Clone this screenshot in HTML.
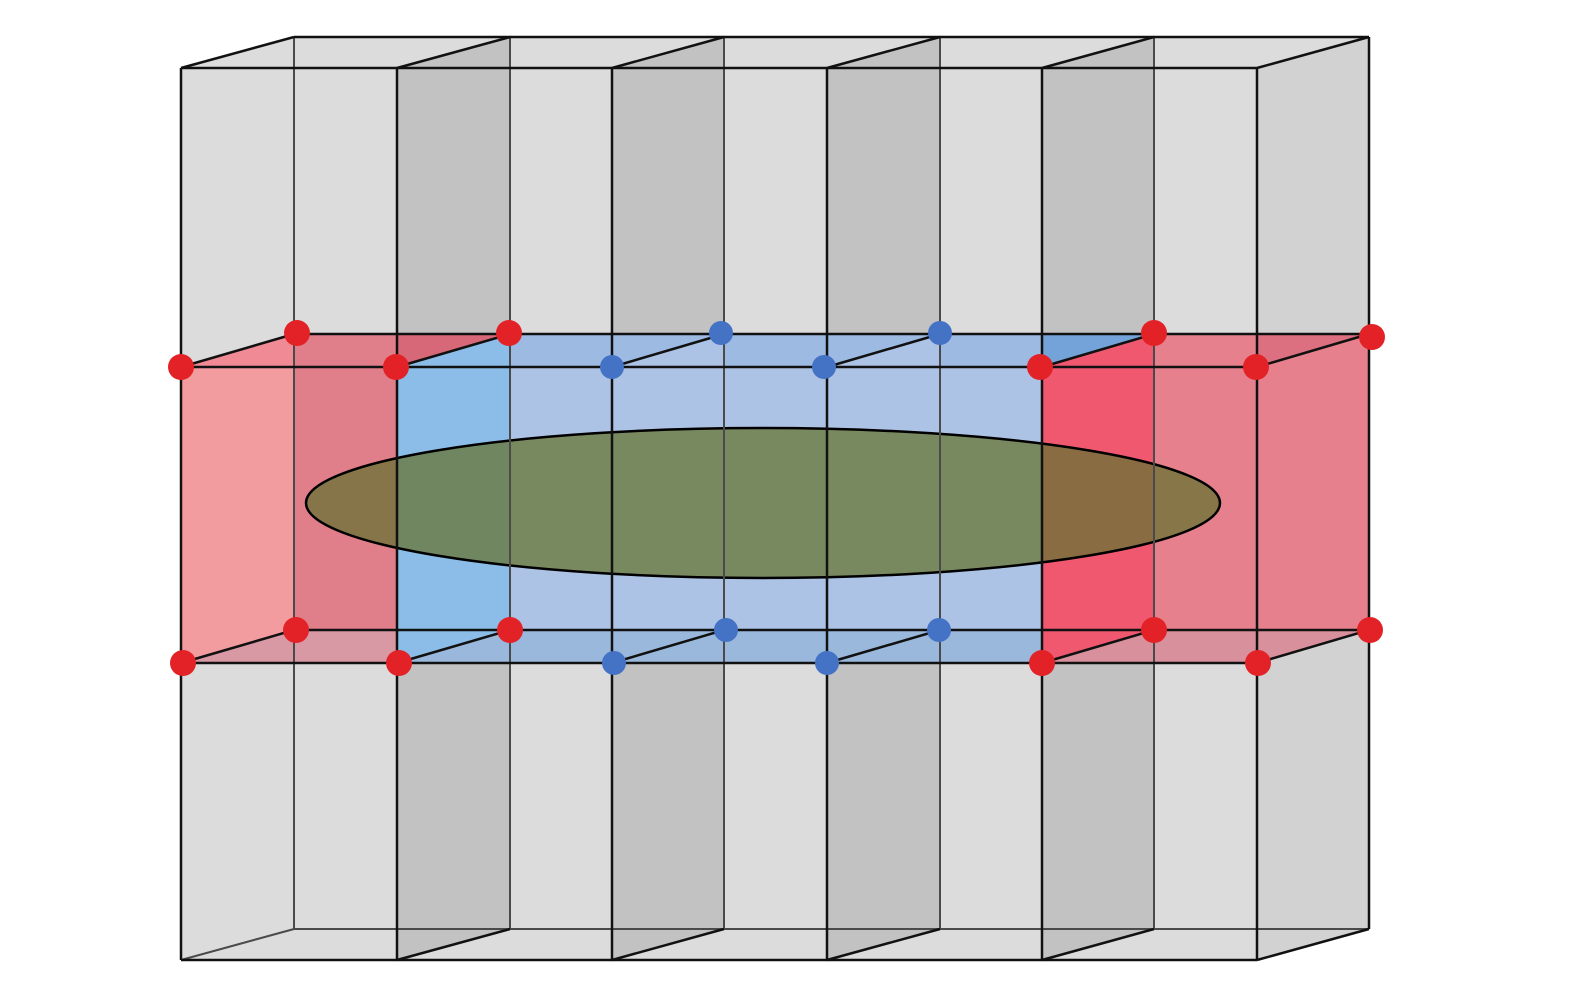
<!DOCTYPE html>
<html><head><meta charset="utf-8"><style>html,body{margin:0;padding:0;background:#fff}svg{display:block}</style></head>
<body>
<svg width="1575" height="984" viewBox="0 0 1575 984" xmlns="http://www.w3.org/2000/svg">
<polygon points="181,68 294,37 1369,37 1369,334 1257,367 181,367" fill="#dcdcdc"/>
<polygon points="397,68 510,37 510,334 397,367" fill="#c2c2c2"/>
<polygon points="612,68 724,37 724,334 612,367" fill="#c2c2c2"/>
<polygon points="827,68 940,37 940,334 827,367" fill="#c2c2c2"/>
<polygon points="1042,68 1154,37 1154,334 1042,367" fill="#c2c2c2"/>
<polygon points="1257,68 1369,37 1369,334 1257,367" fill="#d2d2d2"/>
<polygon points="181,663 294,630 1369,630 1369,929 1257,960 181,960" fill="#dcdcdc"/>
<polygon points="397,663 510,630 510,929 397,960" fill="#c2c2c2"/>
<polygon points="612,663 724,630 724,929 612,960" fill="#c2c2c2"/>
<polygon points="827,663 940,630 940,929 827,960" fill="#c2c2c2"/>
<polygon points="1042,663 1154,630 1154,929 1042,960" fill="#c2c2c2"/>
<polygon points="1257,663 1369,630 1369,929 1257,960" fill="#d2d2d2"/>
<rect x="181" y="367" width="113" height="296" fill="#f39ca0"/>
<rect x="294" y="334" width="103" height="329" fill="#e07e8a"/>
<polygon points="181,367 294,334 294,367" fill="#f08a94"/>
<rect x="397" y="334" width="113" height="329" fill="#8bbde8"/>
<polygon points="397,367 510,334 397,334" fill="#d66878"/>
<rect x="510" y="334" width="532" height="329" fill="#adc3e5"/>
<rect x="510" y="334" width="532" height="33" fill="#9dbae3"/>
<polygon points="612,367 724,334 724,367" fill="#adc3e5"/>
<polygon points="827,367 940,334 940,367" fill="#adc3e5"/>
<polygon points="1042,367 1154,334 1042,334" fill="#74a3da"/>
<rect x="1042" y="367" width="112" height="296" fill="#f05870"/>
<polygon points="1042,367 1154,334 1154,367" fill="#f05870"/>
<polygon points="1154,334 1369,334 1369,630 1257,663 1154,663" fill="#e6808c"/>
<polygon points="1257,367 1369,334 1257,334" fill="#dc7080"/>
<polygon points="181,663 294,630 397,630 397,663" fill="#d898a4"/>
<polygon points="397,663 510,630 1042,630 1042,663" fill="#9ab8dc"/>
<polygon points="1042,663 1154,630 1369,630 1257,663" fill="#d8909c"/>
<ellipse cx="763" cy="503" rx="457" ry="75" fill="rgb(101,115,49)" fill-opacity="0.74" stroke="#000" stroke-width="2.5"/>
<g stroke="#4a4a4a" stroke-width="2" fill="none">
<line x1="294" y1="37" x2="294" y2="929"/>
<line x1="510" y1="37" x2="510" y2="929"/>
<line x1="724" y1="37" x2="724" y2="929"/>
<line x1="940" y1="37" x2="940" y2="929"/>
<line x1="1154" y1="37" x2="1154" y2="929"/>
<line x1="294" y1="929" x2="1369" y2="929"/>
<line x1="181" y1="960" x2="294" y2="929"/>
</g>
<g stroke="#111" stroke-width="2.5" fill="none">
<line x1="181" y1="68" x2="181" y2="960"/>
<line x1="397" y1="68" x2="397" y2="960"/>
<line x1="612" y1="68" x2="612" y2="960"/>
<line x1="827" y1="68" x2="827" y2="960"/>
<line x1="1042" y1="68" x2="1042" y2="960"/>
<line x1="1257" y1="68" x2="1257" y2="960"/>
<line x1="1369" y1="37" x2="1369" y2="929"/>
<line x1="181" y1="68" x2="1257" y2="68"/>
<line x1="294" y1="37" x2="1369" y2="37"/>
<line x1="181" y1="367" x2="1257" y2="367"/>
<line x1="294" y1="334" x2="1369" y2="334"/>
<line x1="181" y1="663" x2="1257" y2="663"/>
<line x1="294" y1="630" x2="1369" y2="630"/>
<line x1="181" y1="960" x2="1257" y2="960"/>
<path d="M181,68L294,37M397,68L510,37M612,68L724,37M827,68L940,37M1042,68L1154,37M1257,68L1369,37"/>
<path d="M181,367L294,334M397,367L510,334M612,367L724,334M827,367L940,334M1042,367L1154,334M1257,367L1369,334"/>
<path d="M181,663L294,630M397,663L510,630M612,663L724,630M827,663L940,630M1042,663L1154,630M1257,663L1369,630"/>
<path d="M397,960L510,929M612,960L724,929M827,960L940,929M1042,960L1154,929M1257,960L1369,929"/>
</g>
<g fill="#e22226">
<circle cx="181" cy="367" r="13"/><circle cx="396" cy="367" r="13"/><circle cx="1040" cy="367" r="13"/><circle cx="1256" cy="367" r="13"/>
<circle cx="297" cy="333" r="13"/><circle cx="509" cy="333" r="13"/><circle cx="1154" cy="333" r="13"/><circle cx="1372" cy="337" r="13"/>
<circle cx="183" cy="663" r="13"/><circle cx="399" cy="663" r="13"/><circle cx="1042" cy="663" r="13"/><circle cx="1258" cy="663" r="13"/>
<circle cx="296" cy="630" r="13"/><circle cx="510" cy="630" r="13"/><circle cx="1154" cy="630" r="13"/><circle cx="1370" cy="630" r="13"/>
</g>
<g fill="#4472c4">
<circle cx="612" cy="367" r="12"/><circle cx="824" cy="367" r="12"/>
<circle cx="721" cy="333" r="12"/><circle cx="940" cy="333" r="12"/>
<circle cx="614" cy="663" r="12"/><circle cx="827" cy="663" r="12"/>
<circle cx="726" cy="630" r="12"/><circle cx="939" cy="630" r="12"/>
</g>
</svg>
</body></html>
